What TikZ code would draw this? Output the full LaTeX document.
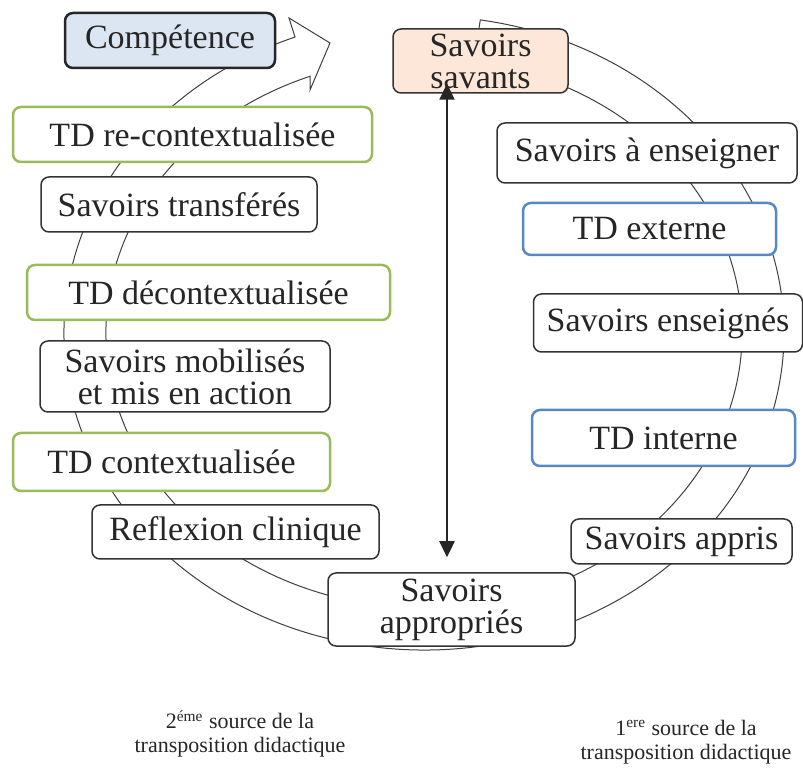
\documentclass[tikz,border=0pt]{standalone}
\usepackage{fontspec}
\setmainfont{Liberation Serif}
\usetikzlibrary{arrows.meta}
\definecolor{compfill}{RGB}{220,230,242}
\definecolor{savfill}{RGB}{252,231,216}
\definecolor{tdgreen}{RGB}{155,187,89}
\definecolor{tdblue}{RGB}{88,136,196}
\tikzset{%
    box/.style={draw=black!80, line width=0.75pt, rounded corners=4pt, fill=white,
        text=black!85, font=\fontsize{17}{16}\selectfont, align=center, inner sep=1pt},
    greenbox/.style={box, draw=tdgreen, line width=1.25pt},
    bluebox/.style={box, draw=tdblue, line width=1.25pt},
    band/.style={draw=black!75, line width=0.5pt, fill=white},
    biarrow/.style={{Triangle[length=8pt,width=7.5pt]}-{Triangle[length=8pt,width=7.5pt]},
        line width=1.2pt, draw=black!85},
    source/.style={font=\fontsize{11}{12}\selectfont, align=center, text=black!85},
}
\begin{document}
\begin{tikzpicture}[x=0.5pt,y=0.5pt]
\useasboundingbox (0,0) rectangle (803,-769);
\draw[band] ([shift={(81:360 and 317)}]424,-333) arc[start angle=81, end angle=-249, x radius=360, y radius=317]
    -- (289,-18) -- (330,-43) -- (310,-90)
    -- ([shift={(-249:318 and 275)}]424,-333) arc[start angle=-249, end angle=81, x radius=318, y radius=275] -- cycle;
\node[box, fill=compfill, draw=black!85, line width=1.25pt, minimum width=105pt, minimum height=27.5pt] (comp) at (170,-40.5) {Compétence};
\node[box, fill=savfill, minimum width=87.5pt, minimum height=32pt] (savants) at (480.5,-61) {Savoirs\\savants};
\node[greenbox, minimum width=179.5pt, minimum height=27.5pt] (tdre) at (192.5,-134.5) {TD re-contextualisée};
\node[box, minimum width=138pt, minimum height=27.5pt] (transferes) at (179,-204.5) {Savoirs transférés};
\node[greenbox, minimum width=181.5pt, minimum height=27.5pt] (tddec) at (208.5,-292.5) {TD décontextualisée};
\node[box, minimum width=145pt, minimum height=35.5pt] (mobilises) at (185,-376.5) {Savoirs mobilisés\\et mis en action};
\node[greenbox, minimum width=158.5pt, minimum height=29pt] (tdcon) at (171.5,-462) {TD contextualisée};
\node[box, minimum width=143.5pt, minimum height=27pt] (reflexion) at (235.5,-532) {Reflexion clinique};
\node[box, minimum width=123.5pt, minimum height=36.5pt] (appropries) at (451.5,-609.5) {Savoirs\\appropriés};
\node[box, minimum width=110.5pt, minimum height=22.5pt] (appris) at (681.5,-541.5) {Savoirs appris};
\node[bluebox, minimum width=131.5pt, minimum height=28pt] (tdint) at (663.5,-438) {TD interne};
\node[box, minimum width=134.5pt, minimum height=29pt] (enseignes) at (668,-323) {Savoirs enseignés};
\node[bluebox, minimum width=126.5pt, minimum height=26pt] (tdext) at (649.5,-229) {TD externe};
\node[box, minimum width=150pt, minimum height=30pt] (enseigner) at (647,-153) {Savoirs à enseigner};
\draw[biarrow] ([xshift=-16.75pt,yshift=5pt]savants.south) -- ([xshift=-2.25pt,yshift=7.5pt]appropries.north);
\node[source] (second) at (240,-734) {2\textsuperscript{éme} source de la\\transposition didactique};
\node[source] (first) at (686,-742) {1\textsuperscript{ere} source de la\\transposition didactique};
\end{tikzpicture}
\end{document}
